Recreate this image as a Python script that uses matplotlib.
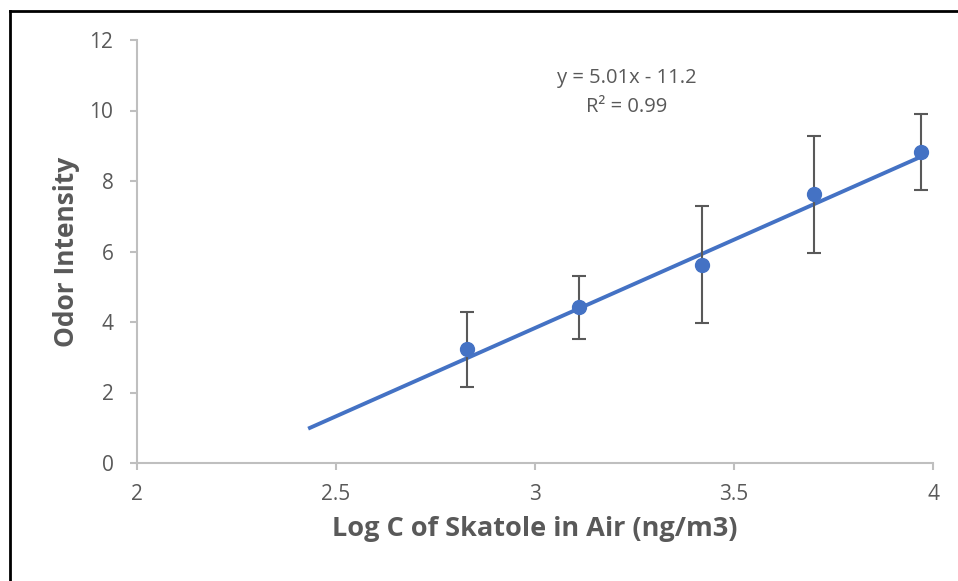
import numpy as np
import matplotlib
matplotlib.use("Agg")
import matplotlib.pyplot as plt
from matplotlib.lines import Line2D

plt.rcParams['font.family'] = ['Open Sans', 'DejaVu Sans']

# Data
log_c = [2.83, 3.11, 3.42, 3.70, 3.97]
odor = [3.22, 4.42, 5.62, 7.63, 8.82]
err = [1.07, 0.89, 1.66, 1.66, 1.07]

# Trendline (Excel linear fit with backward forecast)
slope, intercept = 5.01, -11.2
trend_x = [2.43, 3.97]

blue = '#4472C4'
grey_text = '#595959'
axis_grey = '#BFBFBF'

fig = plt.figure(figsize=(9.58, 5.81), dpi=100)
ax = fig.add_axes([137 / 958, 118 / 581, 796 / 958, 423 / 581])

tx = np.array(trend_x)
ax.plot(tx, slope * tx + intercept, color=blue, linewidth=2.8, solid_capstyle='butt', zorder=2)
ax.errorbar(log_c, odor, yerr=err, fmt='o', color=blue, markersize=10,
            ecolor=grey_text, elinewidth=1.5, capsize=5, capthick=1.5, zorder=3)

ax.text(3.23, 10.92, 'y = 5.01x - 11.2', ha='center', va='center', fontsize=14.5, color=grey_text)
ax.text(3.23, 10.1, 'R² = 0.99', ha='center', va='center', fontsize=14.5, color=grey_text)

ax.set_xlim(2, 4)
ax.set_ylim(0, 12)
ax.set_xticks([2, 2.5, 3, 3.5, 4])
ax.set_xticklabels(['2', '2.5', '3', '3.5', '4'])
ax.set_yticks(range(0, 13, 2))

for side in ['top', 'right']:
    ax.spines[side].set_visible(False)
for side in ['left', 'bottom']:
    ax.spines[side].set_color(axis_grey)
    ax.spines[side].set_linewidth(1.5)
ax.tick_params(axis='both', direction='out', length=5, width=1.5, color=axis_grey,
               labelcolor=grey_text, labelsize=15)
ax.tick_params(axis='x', pad=10)
ax.tick_params(axis='y', pad=12)

ax.set_xlabel('Log C of Skatole in Air (ng/m3)', fontsize=19.5, fontweight='bold', color=grey_text, labelpad=8)
ax.set_ylabel('Odor Intensity', fontsize=19, fontweight='bold', color=grey_text, labelpad=7)

# black frame (only top and left edges visible in the crop)
fig.add_artist(Line2D([9.5 / 958, 9.5 / 958], [0, 1 - 11 / 581], color='black', linewidth=2,
                      transform=fig.transFigure))
fig.add_artist(Line2D([9.5 / 958, 1], [1 - 11 / 581, 1 - 11 / 581], color='black', linewidth=2,
                      transform=fig.transFigure))

fig.savefig('out.png', dpi=100)
